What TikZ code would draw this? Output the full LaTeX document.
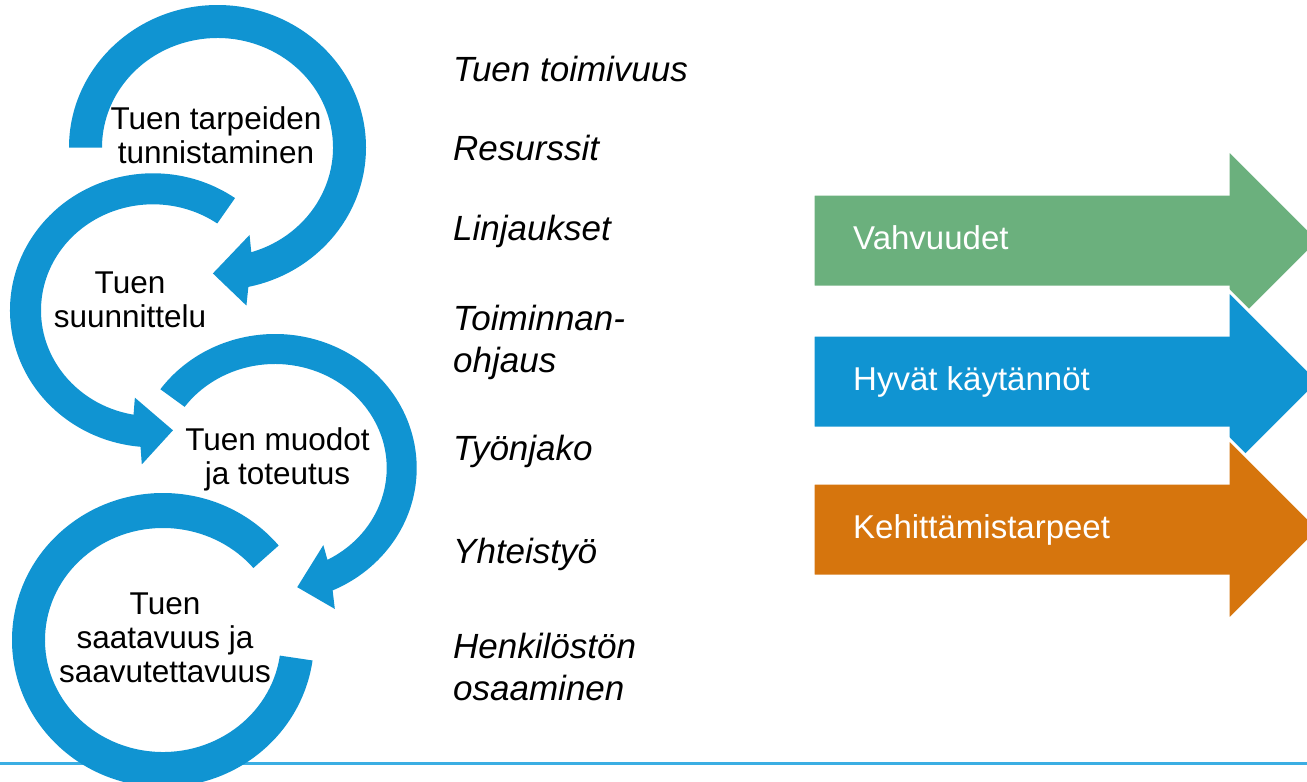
\documentclass[tikz,border=0pt]{standalone}
\usepackage{fontspec}
\setmainfont{Liberation Sans}
\usepackage{xcolor}
\definecolor{ringblue}{RGB}{16,148,210}
\definecolor{arrowgreen}{RGB}{107,176,125}
\definecolor{arroworange}{RGB}{214,117,13}
\definecolor{linecyan}{RGB}{59,174,227}

\begin{document}
\begin{tikzpicture}[x=1pt,y=1pt,
  ringtext/.style={font=\fontsize{31.5}{34}\selectfont, align=center, inner sep=0pt, anchor=base},
  itemtext/.style={font=\fontsize{35}{42}\selectfont\itshape, align=left, inner sep=0pt, anchor=base west},
  bandtext/.style={font=\fontsize{33}{38}\selectfont, text=white, inner sep=0pt, anchor=base west},
  bigarrow/.style={draw=white, line width=3}]
\clip (0,0) rectangle (1307,-782);

\draw[linecyan, line width=2.7] (0,-763.3) -- (1307,-763.3);

% ring 1
\begin{scope}[shift={(217.5,-147.5)}]
\fill[ringblue] (180:148.5 and 142.5) arc[start angle=180, end angle=-78, x radius=148.5, y radius=142.5]
  -- (-80:166.5 and 160.5) -- (-92:132 and 126) -- (-71:98.5 and 92.5) -- (-73:115.5 and 109.5)
  arc[start angle=-73, end angle=180, x radius=115.5, y radius=109.5] -- cycle;
\end{scope}

% ring 2
\begin{scope}[shift={(153,-310.3)}]
\fill[ringblue] (55:143 and 137) arc[start angle=55, end angle=265, x radius=143, y radius=137]
  -- (266:160.5 and 154.5) -- (279:127.5 and 121.5) -- (259:95 and 89) -- (260:112 and 106)
  arc[start angle=260, end angle=55, x radius=112, y radius=106] -- cycle;
\end{scope}

% ring 3
\begin{scope}[shift={(275,-468)}]
\fill[ringblue] (144:141.7 and 134) arc[start angle=144, end angle=-66, x radius=141.7, y radius=134]
  -- (-68:159.7 and 152) -- (-80:128 and 121) -- (-60:96.7 and 89) -- (-62:111.7 and 104)
  arc[start angle=-62, end angle=144, x radius=111.7, y radius=104] -- cycle;
\end{scope}

% ring 4, no head
\begin{scope}[shift={(163,-640)}]
\fill[ringblue] (40:151 and 147) arc[start angle=40, end angle=352, x radius=151, y radius=147]
  -- (352:118 and 112) arc[start angle=352, end angle=40, x radius=118, y radius=112] -- cycle;
\end{scope}

% base anchor = last line
\node[ringtext] (tarpeet) at (216,-163.3) {Tuen tarpeiden\\tunnistaminen};
\node[ringtext] (suunnittelu) at (130,-327.5) {Tuen\\suunnittelu};
\node[ringtext] (muodot) at (277.5,-484.5) {Tuen muodot\\ja toteutus};
\node[ringtext] (saatavuus) at (165,-682) {Tuen\\saatavuus ja\\saavutettavuus};

\node[itemtext] (toimivuus) at (453,-81.7) {Tuen toimivuus};
\node[itemtext] (resurssit) at (453,-160) {Resurssit};
\node[itemtext] (linjaukset) at (453,-240) {Linjaukset};
\node[itemtext] (ohjaus) at (453,-372) {Toiminnan-\\ohjaus};
\node[itemtext] (tyonjako) at (453,-460) {Työnjako};
\node[itemtext] (yhteistyo) at (453,-563.3) {Yhteistyö};
\node[itemtext] (osaaminen) at (453,-700) {Henkilöstön\\osaaminen};

% block arrows
\foreach \yc/\col/\lbl/\nm in {-240.5/arrowgreen/Vahvuudet/vahvuudet,
    -381.5/ringblue/Hyvät käytännöt/kaytannot, -529.5/arroworange/Kehittämistarpeet/tarpeet2}{
  \filldraw[bigarrow, fill=\col] (813,\yc+46.5) -- (1228,\yc+46.5) -- (1228,\yc+91.5) -- (1319.5,\yc)
    -- (1228,\yc-91.5) -- (1228,\yc-46.5) -- (813,\yc-46.5) -- cycle;
  \node[bandtext] (\nm) at (853,\yc-9.2) {\lbl};
}
\end{tikzpicture}
\end{document}
